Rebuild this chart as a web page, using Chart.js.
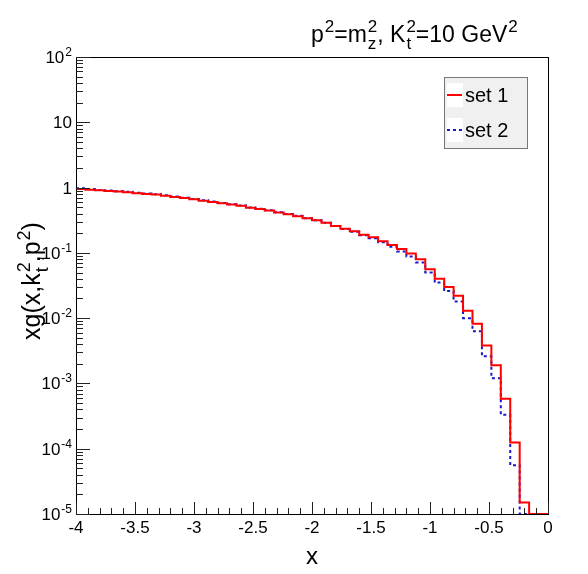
<!DOCTYPE html>
<html>
<head>
<meta charset="utf-8">
<script src="https://cdn.jsdelivr.net/npm/chart.js@4.4.4/dist/chart.umd.min.js"></script>
<style>
  html, body { margin: 0; padding: 0; background: #fff; }
  #wrap { width: 588px; height: 574px; }
</style>
</head>
<body>
<div id="wrap"><canvas id="c" width="588" height="574"></canvas></div>
<script>
// histogram: 50 bins of width 0.08 between -4 and 0
const xMin = -4, xMax = 0, binWidth = 0.08;
const binEdges = Array.from({ length: 51 }, (_, i) => +(xMin + i * binWidth).toFixed(2));

const set1 = [
  0.95, 0.93, 0.91, 0.89, 0.87, 0.85, 0.82, 0.80, 0.78, 0.75,
  0.72, 0.69, 0.66, 0.63, 0.60, 0.575, 0.55, 0.525, 0.49, 0.47,
  0.445, 0.415, 0.39, 0.365, 0.34, 0.315, 0.29, 0.258, 0.235, 0.214,
  0.19, 0.174, 0.151, 0.132, 0.115, 0.098, 0.080, 0.056, 0.040, 0.030,
  0.022, 0.013, 0.0082, 0.0038, 0.0019, 5.8e-4, 1.24e-4, 1.5e-5, 0, 0
];
const set2 = [
  0.98, 0.95, 0.92, 0.90, 0.88, 0.86, 0.83, 0.81, 0.79, 0.76,
  0.73, 0.70, 0.67, 0.64, 0.61, 0.58, 0.555, 0.53, 0.495, 0.475,
  0.45, 0.42, 0.395, 0.37, 0.34, 0.315, 0.29, 0.258, 0.232, 0.21,
  0.186, 0.168, 0.145, 0.124, 0.105, 0.088, 0.071, 0.050, 0.035, 0.026,
  0.018, 0.010, 0.0063, 0.0026, 0.0012, 3.3e-4, 5.6e-5, 0, 0, 0
];

const yMin = 1e-5, yMax = 100;
const yDecades = [-5, -4, -3, -2, -1, 0, 1, 2];
const xMajorTicks = [-4, -3.5, -3, -2.5, -2, -1.5, -1, -0.5, 0];
const xTickLabels = ['-4', '-3.5', '-3', '-2.5', '-2', '-1.5', '-1', '-0.5', '0'];

const FONT = '"Liberation Sans", Arial, Helvetica, sans-serif';

// empty bins sit on the axis floor like ROOT draws them on a log scale
function toSteps(vals) {
  const pts = vals.map((v, i) => ({ x: binEdges[i], y: Math.max(v, yMin) }));
  pts.push({ x: binEdges[vals.length], y: Math.max(vals[vals.length - 1], yMin) });
  return pts;
}

// draw text with ROOT-like super/subscripts; parts: {t} or {sup, sub}
function drawRich(ctx, parts, x, y, size, measureOnly, scale) {
  const sc = scale || 0.7;
  let cx = x;
  for (const p of parts) {
    if (p.t !== undefined) {
      ctx.font = size + 'px ' + FONT;
      if (!measureOnly) ctx.fillText(p.t, cx, y);
      cx += ctx.measureText(p.t).width;
    } else {
      const s = Math.round(size * sc);
      ctx.font = s + 'px ' + FONT;
      let w = 0;
      if (p.sup) {
        if (!measureOnly) ctx.fillText(p.sup, cx + 1, y - size * 0.42);
        w = Math.max(w, ctx.measureText(p.sup).width + 1);
      }
      if (p.sub) {
        if (!measureOnly) ctx.fillText(p.sub, cx + 1, y + size * 0.3);
        w = Math.max(w, ctx.measureText(p.sub).width + 1);
      }
      cx += w;
    }
  }
  return cx - x;
}

const rootDecor = {
  id: 'rootDecor',
  afterDraw(chart) {
    const ctx = chart.ctx;
    const area = chart.chartArea;
    const xs = chart.scales.x, ys = chart.scales.y;
    ctx.save();
    ctx.textBaseline = 'alphabetic';
    ctx.fillStyle = '#000';

    // frame
    ctx.strokeStyle = '#000';
    ctx.lineWidth = 1;
    ctx.strokeRect(Math.round(area.left) + 0.5, Math.round(area.top) + 0.5,
      Math.round(area.right - area.left), Math.round(area.bottom - area.top));

    // y ticks
    ctx.strokeStyle = '#222';
    ctx.beginPath();
    yDecades.forEach(d => {
      const py = Math.round(ys.getPixelForValue(Math.pow(10, d))) + 0.5;
      ctx.moveTo(area.left, py); ctx.lineTo(area.left + 14, py);
      if (d < 2) {
        for (let m = 2; m <= 9; m++) {
          const my = Math.round(ys.getPixelForValue(m * Math.pow(10, d))) + 0.5;
          ctx.moveTo(area.left, my); ctx.lineTo(area.left + 7, my);
        }
      }
    });
    // x ticks
    for (let i = 0; i <= 40; i++) {
      const v = xMin + i * 0.1;
      const px = Math.round(xs.getPixelForValue(v)) + 0.5;
      const len = (i % 5 === 0) ? 12 : 6;
      ctx.moveTo(px, area.bottom); ctx.lineTo(px, area.bottom - len);
    }
    ctx.stroke();

    // y tick labels
    yDecades.forEach(d => {
      const py = ys.getPixelForValue(Math.pow(10, d));
      let parts;
      if (d === 0) parts = [{ t: '1' }];
      else if (d === 1) parts = [{ t: '10' }];
      else parts = [{ t: '10' }, { sup: String(d) }];
      const w = drawRich(ctx, parts, 0, 0, 17, true);
      drawRich(ctx, parts, 72 - w, py + 6, 17, false);
    });

    // x tick labels
    ctx.font = '17px ' + FONT;
    ctx.textAlign = 'center';
    xMajorTicks.forEach((v, i) => {
      ctx.fillText(xTickLabels[i], xs.getPixelForValue(v), area.bottom + 19);
    });

    // x title
    ctx.font = '24px ' + FONT;
    ctx.fillText('x', 312, 564);
    ctx.textAlign = 'left';

    // y title (rotated)
    const yTitle = [{ t: 'xg(x,k' }, { sup: '2', sub: 't' }, { t: ',p' }, { sup: '2' }, { t: ')' }];
    ctx.save();
    ctx.translate(40, 281);
    ctx.rotate(-Math.PI / 2);
    const tw = drawRich(ctx, yTitle, 0, 0, 25, true);
    drawRich(ctx, yTitle, -tw / 2, 0, 25, false);
    ctx.restore();

    // top title
    const title = [{ t: 'p' }, { sup: '2' }, { t: '=m' }, { sup: '2', sub: 'z' }, { t: ', K' },
      { sup: '2', sub: 't' }, { t: '=10 GeV' }, { sup: '2' }];
    drawRich(ctx, title, 311, 42, 23, false, 0.75);

    // legend
    ctx.fillStyle = '#f0f0f0';
    ctx.fillRect(444, 77, 83, 71);
    ctx.strokeStyle = '#777';
    ctx.strokeRect(444.5, 77.5, 83, 71);
    ctx.fillStyle = '#fff';
    ctx.fillRect(447, 83, 16, 24);
    ctx.fillRect(447, 118, 16, 24);
    ctx.lineWidth = 2;
    ctx.strokeStyle = '#ff0000';
    ctx.beginPath(); ctx.moveTo(447, 95); ctx.lineTo(462, 95); ctx.stroke();
    ctx.strokeStyle = '#1a1acc';
    ctx.setLineDash([3, 3]);
    ctx.beginPath(); ctx.moveTo(447, 130); ctx.lineTo(462, 130); ctx.stroke();
    ctx.setLineDash([]);
    ctx.fillStyle = '#000';
    ctx.font = '20px ' + FONT;
    ctx.fillText('set 1', 465, 102);
    ctx.fillText('set 2', 465, 137);

    ctx.restore();
  }
};

new Chart(document.getElementById('c'), {
  type: 'line',
  data: {
    datasets: [
      {
        label: 'set 1',
        data: toSteps(set1),
        stepped: 'before',
        borderColor: '#ff0000',
        borderWidth: 2,
        pointRadius: 0,
        fill: false
      },
      {
        label: 'set 2',
        data: toSteps(set2),
        stepped: 'before',
        borderColor: '#1a1acc',
        borderWidth: 2,
        borderDash: [3, 3],
        pointRadius: 0,
        fill: false
      }
    ]
  },
  options: {
    responsive: false,
    animation: false,
    events: [],
    layout: { padding: { left: 76, right: 40, top: 57, bottom: 60 } },
    plugins: { legend: { display: false }, tooltip: { enabled: false } },
    scales: {
      x: {
        type: 'linear', min: xMin, max: xMax,
        ticks: { display: false },
        grid: { display: false, drawTicks: false },
        border: { display: false }
      },
      y: {
        type: 'logarithmic', min: yMin, max: yMax,
        ticks: { display: false },
        grid: { display: false, drawTicks: false },
        border: { display: false }
      }
    }
  },
  plugins: [rootDecor]
});
</script>
</body>
</html>
